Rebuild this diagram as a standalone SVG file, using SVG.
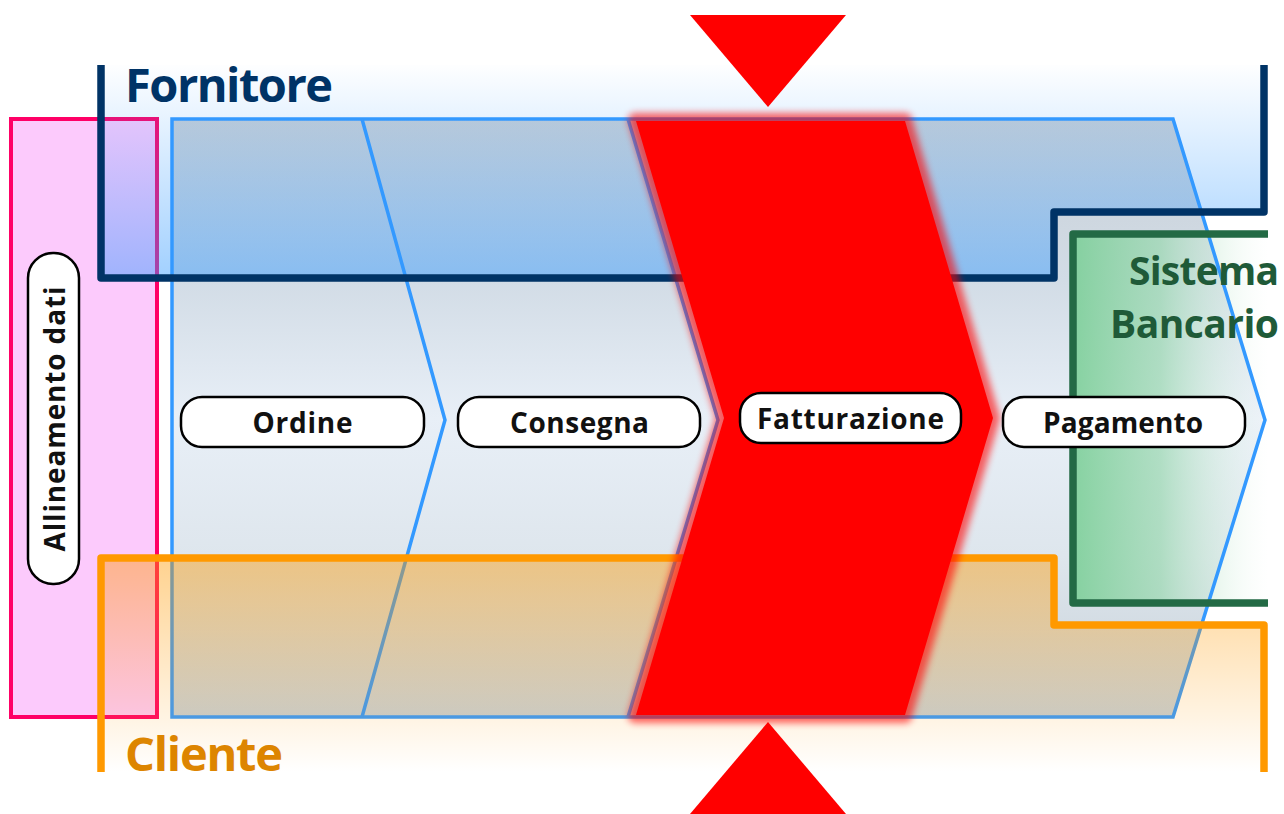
<svg xmlns="http://www.w3.org/2000/svg" width="1284" height="814" viewBox="0 0 1284 814">
<defs>
<style>
.lbl{fill:#ffffff;stroke:#000000;stroke-width:2.5}
.lt{font-family:"Open Sans","Liberation Sans",sans-serif;font-weight:700;font-size:28px;fill:#111111;text-anchor:middle}
.title{font-family:"Open Sans","Liberation Sans",sans-serif;font-weight:700}
.blue{fill:none;stroke:#3399ff;stroke-width:3.5;stroke-linejoin:miter}
</style>
<linearGradient id="chevFill" x1="0" y1="119" x2="0" y2="717" gradientUnits="userSpaceOnUse">
<stop offset="0" stop-color="#c8cfd6"/>
<stop offset="0.27" stop-color="#d2dce6"/>
<stop offset="0.5" stop-color="#e8eff7"/>
<stop offset="0.73" stop-color="#dee6ed"/>
<stop offset="1" stop-color="#c6d0d8"/>
</linearGradient>
<linearGradient id="fornFill" x1="0" y1="62" x2="0" y2="278" gradientUnits="userSpaceOnUse">
<stop offset="0" stop-color="#3399ff" stop-opacity="0"/>
<stop offset="1" stop-color="#3399ff" stop-opacity="0.46"/>
</linearGradient>
<linearGradient id="cliFill" x1="0" y1="558" x2="0" y2="772" gradientUnits="userSpaceOnUse">
<stop offset="0" stop-color="#ff9900" stop-opacity="0.44"/>
<stop offset="1" stop-color="#ff9900" stop-opacity="0"/>
</linearGradient>
<linearGradient id="greenFill" x1="1073" y1="0" x2="1268" y2="0" gradientUnits="userSpaceOnUse">
<stop offset="0" stop-color="#7ccf98" stop-opacity="0.9"/>
<stop offset="0.45" stop-color="#9ad8b0" stop-opacity="0.7"/>
<stop offset="1" stop-color="#ffffff" stop-opacity="0.2"/>
</linearGradient>
<filter id="blur" x="-20%" y="-10%" width="140%" height="120%">
<feGaussianBlur stdDeviation="3.5"/>
</filter>
</defs>
<rect width="1284" height="814" fill="#ffffff"/>

<g id="allineamento-bg">
<rect x="11" y="119" width="146" height="598" fill="#fccafc" stroke="#ff0066" stroke-width="4"/>
</g>

<g id="process">
<polygon points="172,119 1173,119 1265,420 1173,717 172,717" fill="url(#chevFill)"/>
</g>

<g id="banca-fill">
<rect x="1073" y="234" width="195" height="369" fill="url(#greenFill)"/>
</g>

<g id="process-lines">
<polygon class="blue" points="172,119 1173,119 1265,420 1173,717 172,717"/>
<polyline class="blue" points="362,119 445,420 362,717"/>
<polyline class="blue" points="628,119 718,420 628,717"/>
</g>

<g id="fornitore">
<polygon points="101,65 101,278 1054,278 1054,212 1264,212 1264,65" fill="url(#fornFill)"/>
<path d="M101,65 V278 H1054 V212 H1264 V65" fill="none" stroke="#003366" stroke-width="7.5" stroke-linejoin="round"/>
<text class="title" x="125" y="102" font-size="47" fill="#003366" textLength="208">Fornitore</text>
</g>

<g id="cliente">
<polygon points="101,558 1054,558 1054,625 1264,625 1264,772 101,772" fill="url(#cliFill)"/>
<path d="M101,772 V558 H1054 V625 H1264 V772" fill="none" stroke="#ff9900" stroke-width="7.5" stroke-linejoin="round"/>
<text class="title" x="125" y="771" font-size="47" fill="#dd8500" textLength="158">Cliente</text>
</g>

<g id="sistema-bancario">
<path d="M1268,234 H1073 V603 H1268" fill="none" stroke="#236a45" stroke-width="7.5" stroke-linejoin="round"/>
<text class="title" x="1279" y="285" font-size="39" fill="#1f5a38" text-anchor="end" textLength="150">Sistema</text>
<text class="title" x="1279" y="338" font-size="39" fill="#1f5a38" text-anchor="end" textLength="169">Bancario</text>
</g>

<g id="fatturazione-highlight">
<polygon points="635,120 905,120 993,418 905,716 635,716 723,418" fill="#ff0000" stroke="#ff0000" stroke-width="14" stroke-linejoin="round" opacity="0.6" filter="url(#blur)"/>
<polygon points="636,121 905,121 993,418 905,715 636,715 724,418" fill="#ff0000"/>
<polygon points="690,15 846,15 768,107" fill="#ff0000"/>
<polygon points="768,722 690,814 846,814" fill="#ff0000"/>
</g>

<g id="node-allineamento">
<rect class="lbl" x="28" y="253" width="51" height="331" rx="25" ry="25"/>
<text class="lt" transform="translate(65,419) rotate(-90)" textLength="265">Allineamento dati</text>
</g>
<g id="node-ordine">
<rect class="lbl" x="181" y="397" width="243" height="50" rx="21" ry="21"/>
<text class="lt" x="302.5" y="433" textLength="100">Ordine</text>
</g>
<g id="node-consegna">
<rect class="lbl" x="458" y="397" width="242" height="50" rx="21" ry="21"/>
<text class="lt" x="579.5" y="433" textLength="139">Consegna</text>
</g>
<g id="node-fatturazione">
<rect class="lbl" x="740" y="393" width="221" height="50" rx="21" ry="21"/>
<text class="lt" x="850.5" y="429" textLength="187">Fatturazione</text>
</g>
<g id="node-pagamento">
<rect class="lbl" x="1003" y="397" width="242" height="50" rx="21" ry="21"/>
<text class="lt" x="1123" y="433" textLength="160">Pagamento</text>
</g>
</svg>
